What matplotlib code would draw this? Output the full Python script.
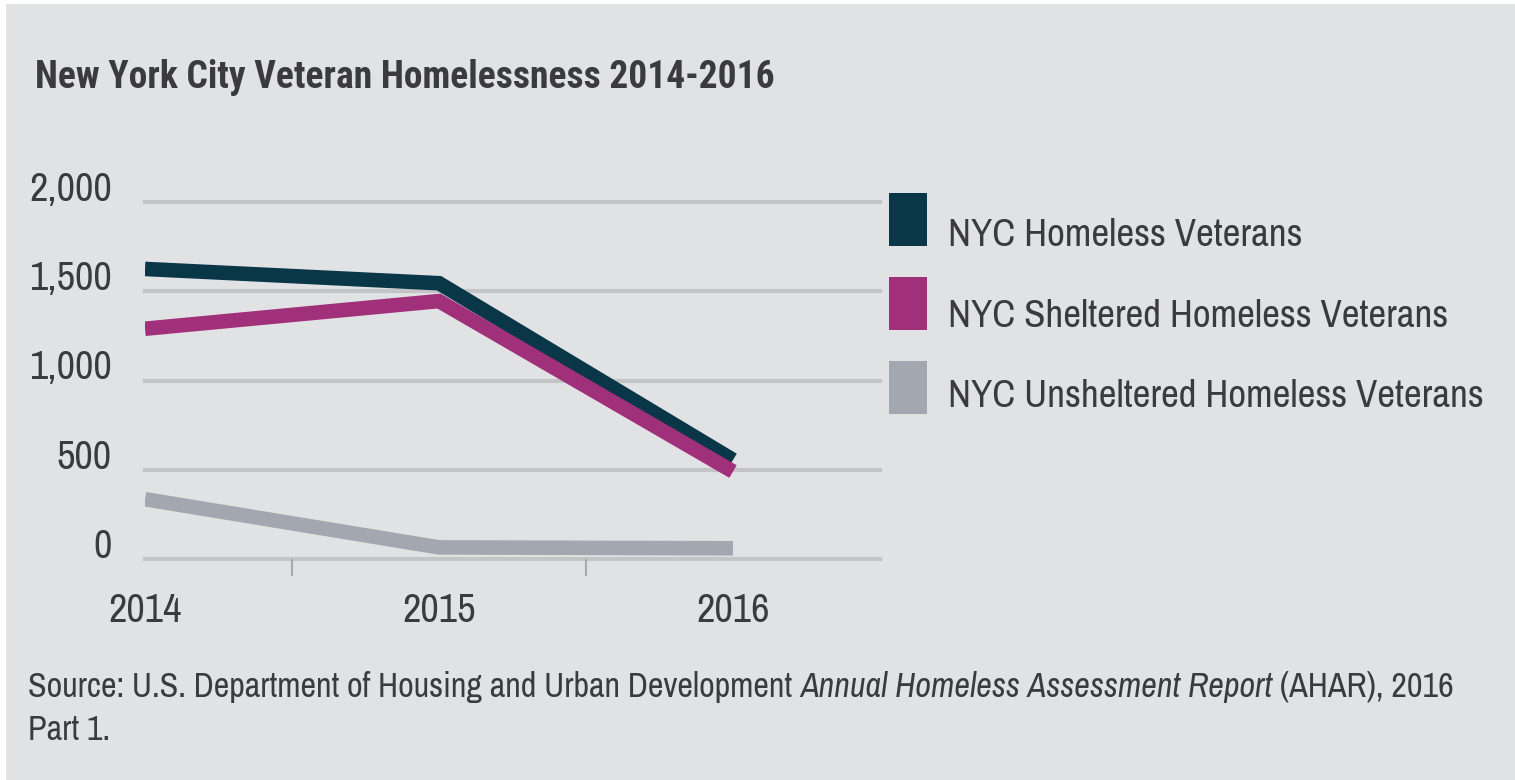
import matplotlib
matplotlib.use("Agg")
import matplotlib.pyplot as plt
from matplotlib.patches import Rectangle
from matplotlib.transforms import ScaledTranslation, offset_copy

years = [2014, 2015, 2016]
homeless = [1625, 1545, 555]
sheltered = [1290, 1445, 490]
unsheltered = [335, 65, 60]
series_names = ["NYC Homeless Veterans", "NYC Sheltered Homeless Veterans",
                "NYC Unsheltered Homeless Veterans"]
y_ticks = [0, 500, 1000, 1500, 2000]
y_labels = ["0", "500", "1,000", "1,500", "2,000"]

FONT = ["Archivo Narrow", "Liberation Sans"]
FONT_B = ["Roboto Condensed", "Archivo Narrow", "Liberation Sans"]
BG = "#e1e2e4"
TXT = "#3b3b3d"
c_home = "#0a3748"
c_shel = "#a0307a"
c_unsh = "#a3a8b0"

fig = plt.figure(figsize=(15.15, 7.8), dpi=100)
fig.patch.set_facecolor("white")
fig.patches.append(Rectangle((6 / 1515, 0), 1, 1 - 4 / 780, transform=fig.transFigure,
                             facecolor=BG, edgecolor="none", zorder=-10))

ax = fig.add_axes([145 / 1515, 1 - 559 / 780, (880 - 145) / 1515, (559 - 202) / 780])
ax.set_facecolor("none")
ax.set_xlim(2014, 2016.5)
ax.set_ylim(0, 2000)
for s in ax.spines.values():
    s.set_visible(False)

for v in y_ticks:
    ax.axhline(v, color="#c3c4c6", lw=3, zorder=1, clip_on=False)

kw = dict(solid_capstyle="butt", solid_joinstyle="miter", lw=10.5, zorder=3)
ax.plot(years, unsheltered, color=c_unsh, **kw)
ax.plot(years, homeless, color=c_home, **kw)
ax.plot(years, sheltered, color=c_shel, **kw)

ax.set_yticks(y_ticks)
ax.set_yticklabels(y_labels, fontfamily=FONT, fontsize=29, color=TXT)
ax.tick_params(axis="y", length=0, pad=24)
for lbl in ax.get_yticklabels():
    lbl.set_verticalalignment("baseline")
    lbl.set_transform(lbl.get_transform() + ScaledTranslation(0, 0.01, fig.dpi_scale_trans))

ax.set_xticks(years)
ax.set_xticklabels([str(y) for y in years], fontfamily=FONT, fontsize=29, color=TXT)
ax.set_xticks([2014.5, 2015.5], minor=True)
ax.tick_params(axis="x", which="major", length=0, pad=24)
ax.tick_params(axis="x", which="minor", length=12, width=1.5, color="#a9aaac")

# legend: coloured blocks + labels
for i, (name, col) in enumerate(zip(series_names, (c_home, c_shel, c_unsh))):
    fig.patches.append(Rectangle((889 / 1515, 1 - (246 + 84 * i) / 780), 38 / 1515, 53 / 780,
                                 transform=fig.transFigure, facecolor=col, edgecolor="none"))
    fig.text(948 / 1515, 1 - (246 + 80.5 * i) / 780, name, fontfamily=FONT, fontsize=28,
             color=TXT, va="baseline")

fig.text(35 / 1515, 1 - 88 / 780, "New York City Veteran Homelessness 2014-2016",
         fontfamily=FONT_B, fontsize=27, fontweight="bold", color=TXT, va="baseline")

# source line, with the report title in italics
renderer = fig.canvas.get_renderer()
parts = [("Source: U.S. Department of Housing and Urban Development ", "normal"),
         ("Annual Homeless Assessment Report", "italic"),
         (" (AHAR), 2016", "normal")]
t = None
for txt, style in parts:
    if t is None:
        t = fig.text(28 / 1515, 1 - 697 / 780, txt, fontfamily=FONT, fontsize=24.6,
                     style=style, color=TXT, va="baseline")
    else:
        w = t.get_window_extent(renderer).width
        t = fig.text(0, 0, txt, fontfamily=FONT, fontsize=24.6, style=style, color=TXT,
                     va="baseline",
                     transform=offset_copy(t.get_transform(), fig=fig, x=w, units="dots"))
        t.set_position(prev_pos)
    prev_pos = t.get_position()
fig.text(28 / 1515, 1 - 740 / 780, "Part 1.",
         fontfamily=FONT, fontsize=24.6, color=TXT, va="baseline")

fig.savefig("out.png", dpi=100, facecolor=fig.get_facecolor())
